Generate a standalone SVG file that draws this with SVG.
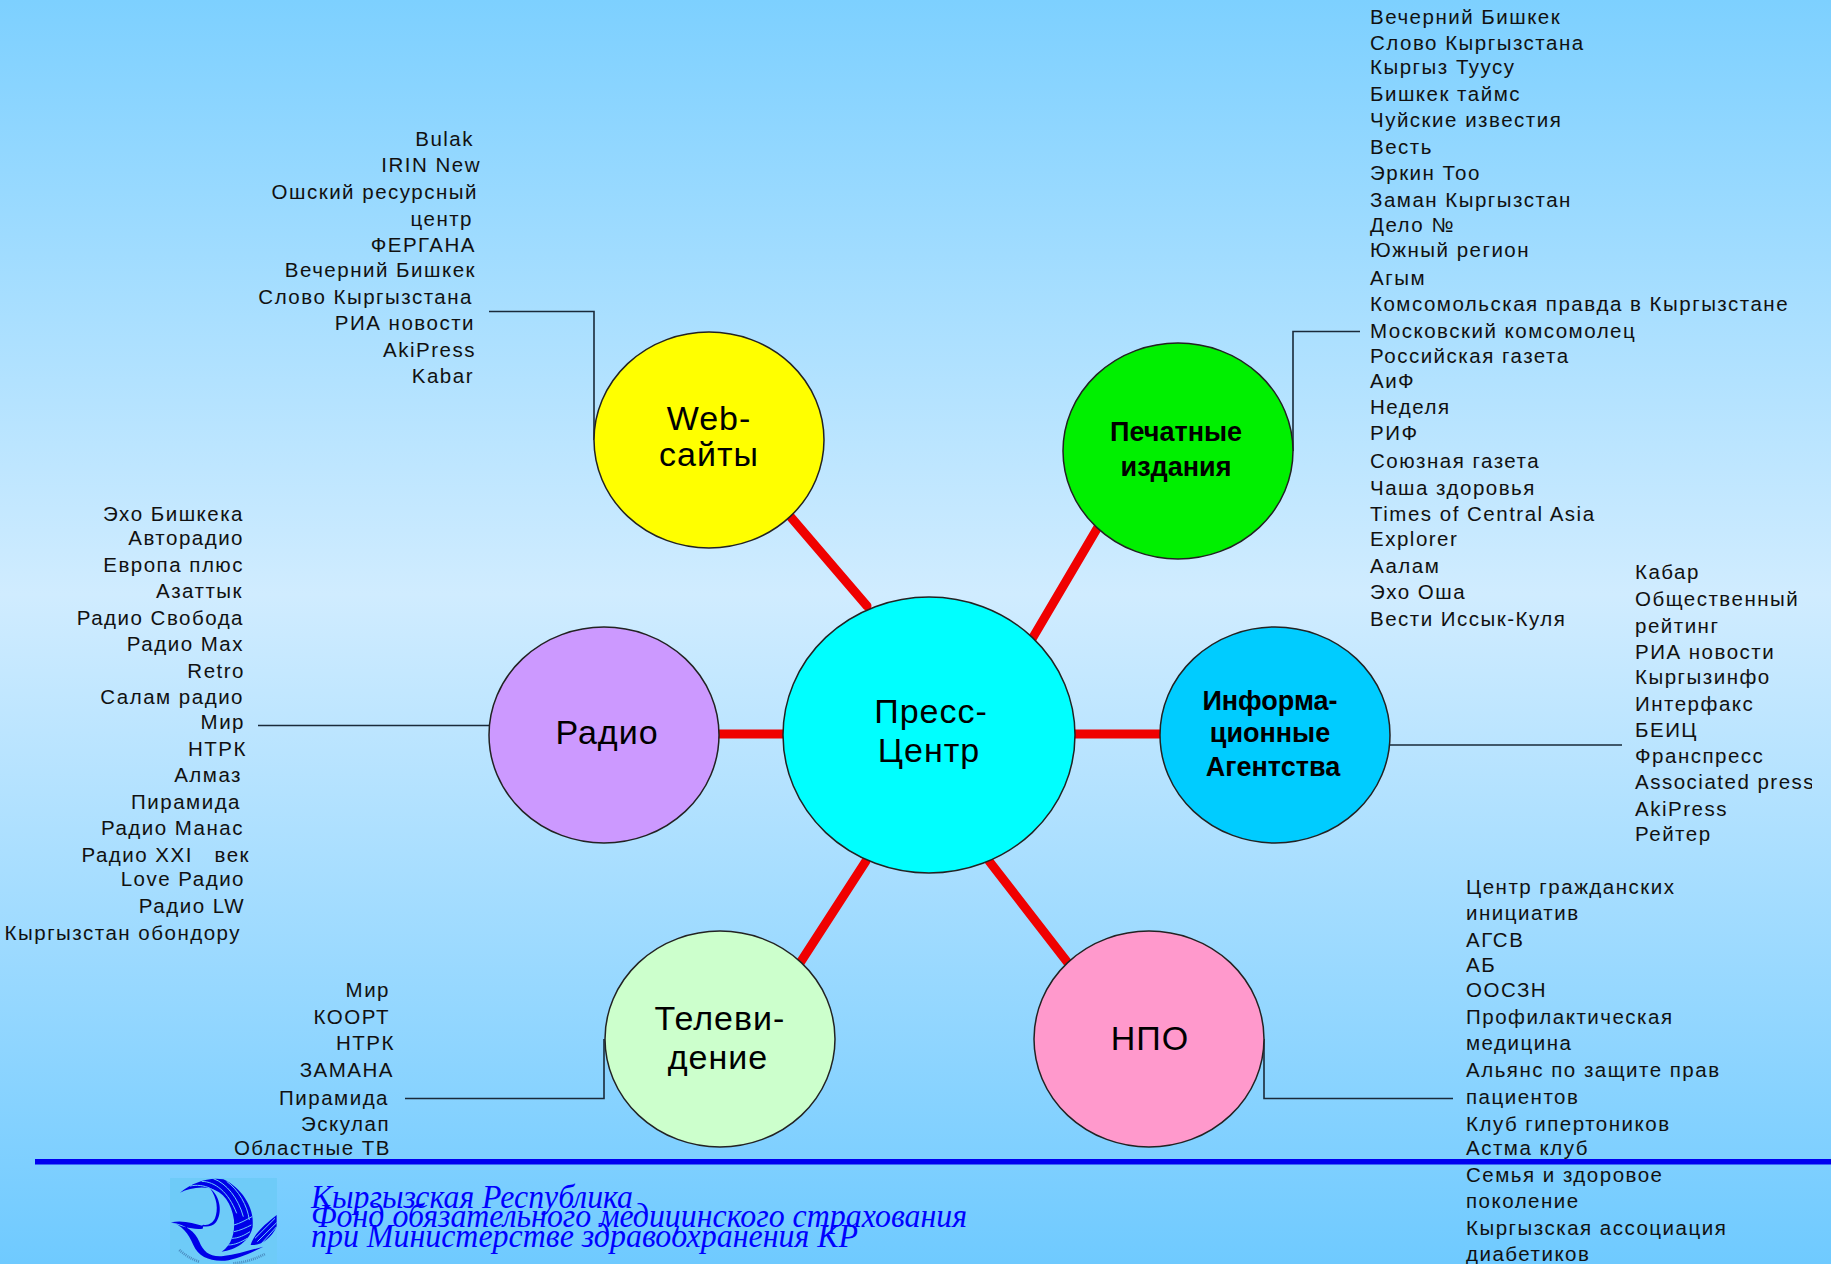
<svg xmlns="http://www.w3.org/2000/svg" width="1831" height="1264" viewBox="0 0 1831 1264">
<style>
text{font-family:"Liberation Sans",Arial,sans-serif;fill:#111}
.l{font-size:20.5px;letter-spacing:1.5px}
.r{text-anchor:end}
.n{font-size:34px;letter-spacing:1px;text-anchor:middle;fill:#000}
.b{font-size:27px;font-weight:bold;text-anchor:middle;fill:#000}
.c{stroke:#222;stroke-width:1.5}
.red{stroke:#f00000;stroke-width:9;stroke-linecap:round;fill:none}
.thin{stroke:#1a2a3a;stroke-width:1.6;fill:none}
.f{font-family:"Liberation Serif","Times New Roman",serif;font-style:italic;font-size:34px;fill:#0000ff}
.st{stroke:#6ecbf8;stroke-width:3;fill:none}
</style>
<defs>
<linearGradient id="bg" x1="0" y1="0" x2="0" y2="1"><stop offset="0" stop-color="#7dd0ff"/><stop offset=".47" stop-color="#d0ecff"/><stop offset="1" stop-color="#6fcaff"/></linearGradient>
<clipPath id="clipA"><rect x="1600" y="540" width="212" height="340"/></clipPath>
</defs>
<rect width="1831" height="1264" fill="url(#bg)"/>
<g id="connectors">
<path class="red" d="M789 515L867 606M1098 527L1032 639M1072 734H1163M717 734H785M800 963L866 861M989 861L1068 963"/>
<path class="thin" d="M489 311.500H594V440M1360 331.500H1293V451M1390 745H1622M258 725.500H489M405 1098.500H604V1039M1264 1039V1098.500H1453"/>
</g>
<g id="node-center"><ellipse class="c" cx="929" cy="735" rx="146" ry="138" fill="#00ffff"/><text class="n" x="931" y="723">Пресс-</text><text class="n" x="929" y="762">Центр</text></g>
<g id="node-web"><ellipse class="c" cx="709" cy="440" rx="115" ry="108" fill="#ffff00"/><text class="n" x="709" y="430">Web-</text><text class="n" x="709" y="466">сайты</text></g>
<g id="node-print"><ellipse class="c" cx="1178" cy="451" rx="115" ry="108" fill="#00f000"/><text class="b" x="1176" y="441">Печатные</text><text class="b" x="1176" y="476">издания</text></g>
<g id="node-agency"><ellipse class="c" cx="1275" cy="735" rx="115" ry="108" fill="#00ccff"/><text class="b" x="1270" y="710">Информа-</text><text class="b" x="1270" y="742">ционные</text><text class="b" x="1273" y="776">Агентства</text></g>
<g id="node-ngo"><ellipse class="c" cx="1149" cy="1039" rx="115" ry="108" fill="#ff99cc"/><text class="n" x="1150" y="1050">НПО</text></g>
<g id="node-tv"><ellipse class="c" cx="720" cy="1039" rx="115" ry="108" fill="#ccffcc"/><text class="n" x="720" y="1030">Телеви-</text><text class="n" x="718" y="1069">дение</text></g>
<g id="node-radio"><ellipse class="c" cx="604" cy="735" rx="115" ry="108" fill="#cc99ff"/><text class="n" x="607" y="744">Радио</text></g>
<g id="list-web" transform="translate(1 -1)">
<text class="l r" x="473" y="147">Bulak</text><text class="l r" x="480" y="173">IRIN New</text><text class="l r" x="477" y="200">Ошский ресурсный</text><text class="l r" x="472" y="227">центр</text><text class="l r" x="475" y="253">ФЕРГАНА</text><text class="l r" x="475" y="278">Вечерний Бишкек</text><text class="l r" x="472" y="305">Слово Кыргызстана</text><text class="l r" x="474" y="331">РИА новости</text><text class="l r" x="475" y="358">AkiPress</text><text class="l r" x="473" y="384">Kabar</text>
</g>
<g id="list-print" transform="translate(-1 -1)">
<text class="l" x="1371" y="25">Вечерний Бишкек</text><text class="l" x="1371" y="51">Слово Кыргызстана</text><text class="l" x="1371" y="75">Кыргыз Туусу</text><text class="l" x="1371" y="102">Бишкек таймс</text><text class="l" x="1371" y="128">Чуйские известия</text><text class="l" x="1371" y="155">Весть</text><text class="l" x="1371" y="181">Эркин Тоо</text><text class="l" x="1371" y="208">Заман Кыргызстан</text><text class="l" x="1371" y="233">Дело №</text><text class="l" x="1371" y="258">Южный регион</text><text class="l" x="1371" y="286">Агым</text><text class="l" x="1371" y="312">Комсомольская правда в Кыргызстане</text><text class="l" x="1371" y="339">Московский комсомолец</text><text class="l" x="1371" y="364">Российская газета</text><text class="l" x="1371" y="389">АиФ</text><text class="l" x="1371" y="415">Неделя</text><text class="l" x="1371" y="441">РИФ</text><text class="l" x="1371" y="469">Союзная газета</text><text class="l" x="1371" y="496">Чаша здоровья</text><text class="l" x="1371" y="522">Times of Central Asia</text><text class="l" x="1371" y="547">Explorer</text><text class="l" x="1371" y="574">Аалам</text><text class="l" x="1371" y="600">Эхо Оша</text><text class="l" x="1371" y="627">Вести Иссык-Куля</text>
</g>
<g id="list-agency" clip-path="url(#clipA)">
<text class="l" x="1635" y="579">Кабар</text><text class="l" x="1635" y="606">Общественный</text><text class="l" x="1635" y="633">рейтинг</text><text class="l" x="1635" y="659">РИА новости</text><text class="l" x="1635" y="684">Кыргызинфо</text><text class="l" x="1635" y="711">Интерфакс</text><text class="l" x="1635" y="737">БЕИЦ</text><text class="l" x="1635" y="763">Франспресс</text><text class="l" x="1635" y="789">Associated press</text><text class="l" x="1635" y="816">AkiPress</text><text class="l" x="1635" y="841">Рейтер</text>
</g>
<g id="list-radio" transform="translate(1 -1)">
<text class="l r" x="243" y="522">Эхо Бишкека</text><text class="l r" x="243" y="546">Авторадио</text><text class="l r" x="243" y="573">Европа плюс</text><text class="l r" x="242" y="599">Азаттык</text><text class="l r" x="243" y="626">Радио Свобода</text><text class="l r" x="243" y="652">Радио Max</text><text class="l r" x="244" y="679">Retro</text><text class="l r" x="243" y="705">Салам радио</text><text class="l r" x="244" y="730">Мир</text><text class="l r" x="246" y="757">НТРК</text><text class="l r" x="241" y="783">Алмаз</text><text class="l r" x="240" y="810">Пирамида</text><text class="l r" x="243" y="836">Радио Манас</text><text class="l r" x="249" y="863" xml:space="preserve">Радио XXI   век</text><text class="l r" x="244" y="887">Love Радио</text><text class="l r" x="244" y="914">Радио LW</text><text class="l r" x="240" y="941">Кыргызстан обондору</text>
</g>
<g id="list-tv" transform="translate(2 -1)">
<text class="l r" x="388" y="998">Мир</text><text class="l r" x="388" y="1025">КООРТ</text><text class="l r" x="393" y="1051">НТРК</text><text class="l r" x="392" y="1078">ЗАМАНА</text><text class="l r" x="387" y="1106">Пирамида</text><text class="l r" x="388" y="1132">Эскулап</text><text class="l r" x="389" y="1156">Областные ТВ</text>
</g>
<g id="list-ngo" transform="translate(0 -1)">
<text class="l" x="1466" y="895">Центр гражданских</text><text class="l" x="1466" y="921">инициатив</text><text class="l" x="1466" y="948">АГСВ</text><text class="l" x="1466" y="973">АБ</text><text class="l" x="1466" y="998">ООСЗН</text><text class="l" x="1466" y="1025">Профилактическая</text><text class="l" x="1466" y="1051">медицина</text><text class="l" x="1466" y="1078">Альянс по защите прав</text><text class="l" x="1466" y="1105">пациентов</text><text class="l" x="1466" y="1132">Клуб гипертоников</text><text class="l" x="1466" y="1156">Астма клуб</text><text class="l" x="1466" y="1183">Семья и здоровое</text><text class="l" x="1466" y="1209">поколение</text><text class="l" x="1466" y="1236">Кыргызская ассоциация</text><text class="l" x="1466" y="1262">диабетиков</text>
</g>
<rect id="divider" x="35" y="1159" width="1796" height="5.500" fill="#0000f0"/>
<g id="logo" transform="translate(160 1170) scale(.3333)">
<rect x="30" y="24" width="321" height="258" fill="#6ecbf8"/>
<path fill="#0000e8" d="M60 68C100 35 150 20 190 28C240 50 285 110 278 170C270 215 225 240 185 245C215 225 225 190 222 150C215 100 190 65 150 55C120 48 85 55 60 68Z"/>
<path class="st" d="M90 48C130 40 175 55 205 110M125 34C165 35 205 65 230 130M160 26C200 40 235 85 250 140M200 34C235 60 262 105 268 150M222 165C240 160 258 150 276 140M222 185C240 182 260 172 274 165M216 205C235 205 255 195 270 185M205 225C225 225 245 215 262 205"/>
<path fill="#0000e8" d="M150 55C182 80 188 130 168 157C158 170 140 172 125 168L130 164C145 167 158 160 165 145C175 120 172 85 150 55Z"/>
<path fill="#0000e8" d="M33 157C65 165 85 190 100 225C115 260 150 275 195 272C230 268 270 250 310 230C270 240 230 255 190 258C150 262 130 245 118 215C105 185 80 165 33 157ZM33 157C70 150 100 160 130 168L128 176C100 180 65 170 33 157Z"/>
<path fill="#0000e8" d="M350 135C320 160 285 185 272 225C300 228 332 208 350 170Z"/>
<path class="st" d="M345 145L285 205M350 158L292 215M350 170L305 220"/>
<path fill="none" stroke="#3a70a8" stroke-width="8" stroke-dasharray="3 3" opacity=".7" d="M58 240C75 255 95 268 120 276M220 280C255 278 290 265 315 252"/>
</g>
<g id="footer">
<text class="f" x="311" y="1208" textLength="322" lengthAdjust="spacingAndGlyphs">Кыргызская Республика</text>
<text class="f" x="311" y="1227" textLength="656" lengthAdjust="spacingAndGlyphs">Фонд обязательного медицинского страхования</text>
<text class="f" x="311" y="1247" textLength="547" lengthAdjust="spacingAndGlyphs">при Министерстве здравоохранения КР</text>
</g>
</svg>
